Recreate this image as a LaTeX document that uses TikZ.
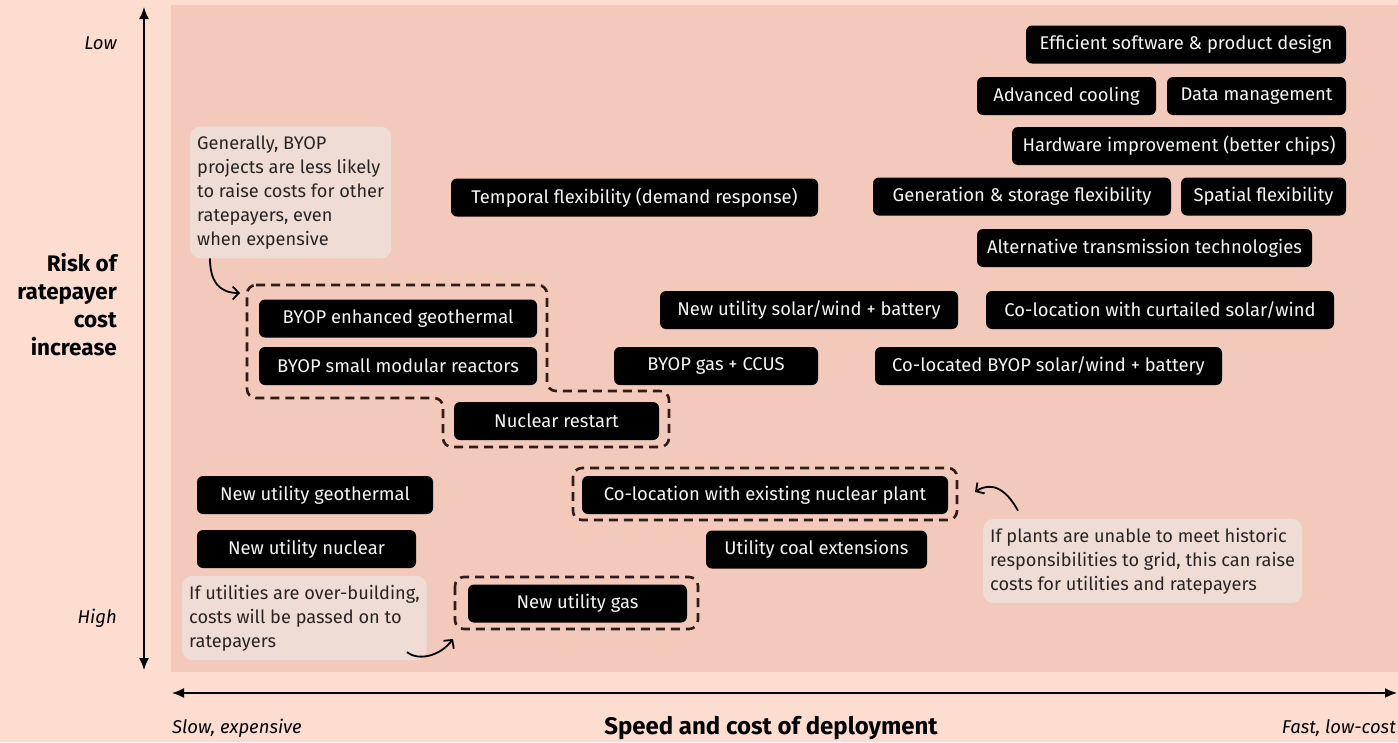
\documentclass[tikz,border=0pt]{standalone}
\usepackage{fontspec}
\setmainfont{Fira Sans}
\usetikzlibrary{arrows.meta}

\definecolor{outerbg}{RGB}{252,221,208}
\definecolor{panelbg}{RGB}{242,201,186}
\definecolor{notebg}{RGB}{239,221,213}
\definecolor{dashbrown}{RGB}{48,28,24}
\definecolor{notetext}{RGB}{40,36,36}

\tikzset{
  option/.style={fill=black, text=white!96!black, rounded corners=6pt,
    minimum height=38pt, inner sep=0pt, font=\fontsize{18.4}{22}\selectfont},
  note/.style={fill=notebg, rounded corners=10pt, align=left, anchor=west,
    inner xsep=7pt, inner ysep=9pt, text=notetext,
    font=\fontsize{18.2}{24}\selectfont},
  group/.style={draw=dashbrown, line width=2.6pt, dash pattern=on 9pt off 6pt,
    rounded corners=9pt},
  curvy/.style={line width=1.8pt, -{Straight Barb[length=6pt, width=13pt]}},
  axislab/.style={inner sep=0pt, font=\fontsize{18.5}{22}\selectfont\itshape},
  axistitle/.style={inner sep=0pt, font=\fontsize{22.5}{28}\selectfont\bfseries},
}

\begin{document}
\begin{tikzpicture}[x=1pt, y=-1pt, >={Latex[length=12pt,width=10pt]}]

  % fonds
  \fill[outerbg] (0,0) rectangle (1398,742);
  \fill[panelbg] (171,5) rectangle (1398,672);
  \useasboundingbox (0,0) rectangle (1398,742);

  % axes
  \coordinate (ytop) at (144,7);
  \coordinate (ybot) at (144,670);
  \coordinate (xleft) at (172,693);
  \coordinate (xright) at (1397,693);
  \draw[<->, line width=1.6pt] (ybot) -- (ytop);
  \draw[<->, line width=1.6pt] (xleft) -- (xright);

  % libelles des axes
  \node[axislab, anchor=east] (low) at (117,43) {Low};
  \node[axislab, anchor=east] (high) at (117,618) {High};
  \node[axistitle, anchor=east, align=right] (risk) at (117,305)
    {Risk of\\ratepayer\\cost\\increase};
  \node[axislab, anchor=west] (slow) at (172,728) {Slow, expensive};
  \node[axistitle, font=\fontsize{24}{28}\selectfont\bfseries] (speed) at (771,728) {Speed and cost of deployment};
  \node[axislab, anchor=east] (fast) at (1396,728) {Fast, low-cost};

  % groupes en pointilles
  \draw[group] (247,285) -- (547,285) -- (547,391) -- (669,391) -- (669,447)
    -- (443,447) -- (443,398) -- (247,398) -- cycle;
  \draw[group] (573,468) rectangle (957,520);
  \draw[group] (455,577) rectangle (698,629);

  % options (haut a droite : faible risque)
  \node[option, minimum width=320pt] (effsw) at (1186,44.5) {Efficient software \& product design};
  \node[option, minimum width=179pt] (cool) at (1066.5,96) {Advanced cooling};
  \node[option, minimum width=179pt] (datamgmt) at (1256.5,96) {Data management};
  \node[option, minimum width=334pt] (hardware) at (1179,146) {Hardware improvement (better chips)};
  \node[option, minimum width=298pt] (genstor) at (1022,196.5) {Generation \& storage flexibility};
  \node[option, minimum width=165pt] (spatial) at (1263.5,196.5) {Spatial flexibility};
  \node[option, minimum width=335pt] (alttrans) at (1144.5,248) {Alternative transmission technologies};
  \node[option, minimum width=367pt] (temporal) at (634.5,197.5) {Temporal flexibility (demand response)};

  % options (milieu)
  \node[option, minimum width=298pt] (nusolar) at (809,310) {New utility solar/wind + battery};
  \node[option, minimum width=348pt] (curtailed) at (1160,310) {Co-location with curtailed solar/wind};
  \node[option, minimum width=278pt] (byopgeo) at (398,318.5) {BYOP enhanced geothermal};
  \node[option, minimum width=278pt] (byopsmr) at (398,366) {BYOP small modular reactors};
  \node[option, minimum width=204pt] (byopgas) at (716,366) {BYOP gas + CCUS};
  \node[option, minimum width=347pt] (byopsolar) at (1048.5,366) {Co-located BYOP solar/wind + battery};
  \node[option, minimum width=205pt] (restart) at (556.5,421) {Nuclear restart};

  % options (bas : risque eleve)
  \node[option, minimum width=236pt] (nugeo) at (315,495) {New utility geothermal};
  \node[option, minimum width=366pt] (colocnuc) at (765,495) {Co-location with existing nuclear plant};
  \node[option, minimum width=219pt] (nunuc) at (306.5,549) {New utility nuclear};
  \node[option, minimum width=221pt] (coal) at (816.5,549.5) {Utility coal extensions};
  \node[option, minimum width=219pt] (nugas) at (577.5,603.5) {New utility gas};

  % notes
  \node[note] (byopnote) at (190,192.5)
    {Generally, BYOP\\projects are less likely\\to raise costs for other\\ratepayers, even\\when expensive};
  \node[note] (overnote) at (182,618)
    {If utilities are over-building,\\costs will be passed on to\\ratepayers};
  \node[note] (plantnote) at (983,561)
    {If plants are unable to meet historic\\responsibilities to grid, this can raise\\costs for utilities and ratepayers};

  % fleches courbes
  \coordinate (byoptip) at (240,293);
  \coordinate (gastip) at (453,639);
  \coordinate (coloctip) at (975,492);
  \draw[curvy] ([xshift=20pt]byopnote.south west) .. controls +(0,24) and (220,293) .. (byoptip);
  \draw[curvy] ([xshift=-20pt, yshift=8pt]overnote.south east) .. controls +(12,9) and (440,656) .. (gastip);
  \draw[curvy] ([xshift=35pt, yshift=8pt]plantnote.north west) .. controls +(-13,-24) and (990,482) .. (coloctip);

\end{tikzpicture}
\end{document}
